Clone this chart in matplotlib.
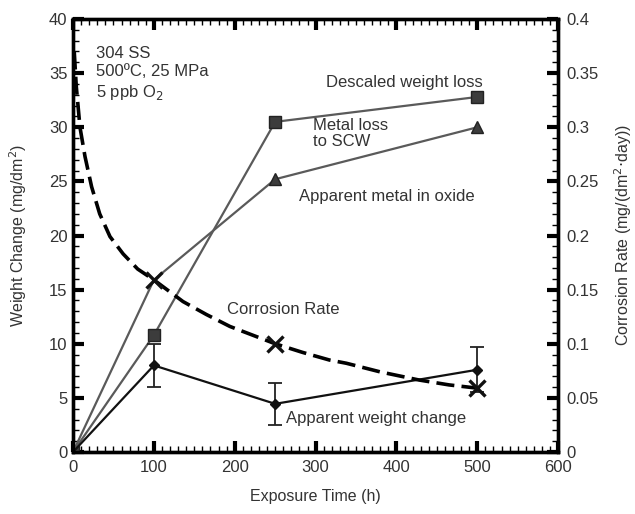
import numpy as np
import matplotlib.pyplot as plt
from matplotlib.ticker import MultipleLocator

plt.rcParams['font.family'] = ['Liberation Sans', 'DejaVu Sans']

# exposure times (h)
hours = [0, 100, 250, 500]

# weight change series (mg/dm2)
descaled_loss = [0, 10.8, 30.5, 32.8]
metal_in_oxide = [0, 15.9, 25.2, 30.0]
apparent_change = [0, 8.0, 4.45, 7.6]
apparent_err = [0, 2.0, 1.95, 2.1]

# corrosion rate (mg/(dm2 day)): measured points and the fitted curve through them
rate_hours = [100, 250, 500]
rate_points = [0.159, 0.100, 0.059]
curve_hours = [1.5, 4, 8.6, 14.8, 23, 33, 45.7, 62, 80, 100, 136, 165, 194, 222, 250,
               284, 317, 338, 380, 428, 465, 500]
curve_rate = [0.370, 0.338, 0.300, 0.273, 0.245, 0.220, 0.199, 0.183, 0.169, 0.159,
              0.139, 0.127, 0.116, 0.108, 0.100, 0.092, 0.085, 0.082, 0.074, 0.0665,
              0.062, 0.059]

fig = plt.figure(figsize=(6.35, 5.14), dpi=100)
ax = fig.add_axes([0.115, 0.1206, 0.764, 0.8424])
ax2 = ax.twinx()

gray = '#5a5a5a'
dark = '#3c3c3c'

ax.plot(hours, descaled_loss, color=gray, lw=1.6, marker='s', ms=8,
        mfc=dark, mec='#222222', zorder=3)
ax.plot(hours, metal_in_oxide, color=gray, lw=1.6, marker='^', ms=8,
        mfc=dark, mec='#222222', markevery=[2, 3], zorder=3)
ax.errorbar(hours[1:], apparent_change[1:], yerr=apparent_err[1:], fmt='none',
            ecolor='#222222', elinewidth=1.3, capsize=5, capthick=1.3, zorder=3)
ax.plot(hours, apparent_change, color='#111111', lw=1.6, marker='D', ms=5.5,
        mfc='#111111', mec='#111111', markevery=[1, 2, 3], zorder=4)

ax2.plot(curve_hours, curve_rate, color='black', lw=2.6, ls=(0, (5, 2)), zorder=3)
ax2.plot(rate_hours, rate_points, ls='none', marker='x', ms=12, mew=2.4,
         color='#111111', zorder=4)

ax.set_xlim(0, 600)
ax.set_ylim(0, 40)
ax2.set_ylim(0, 0.4)

ax.xaxis.set_major_locator(MultipleLocator(100))
ax.xaxis.set_minor_locator(MultipleLocator(10))
ax.yaxis.set_major_locator(MultipleLocator(5))
ax.yaxis.set_minor_locator(MultipleLocator(1))
ax2.yaxis.set_major_locator(MultipleLocator(0.05))
ax2.yaxis.set_minor_locator(MultipleLocator(0.01))
ax2.set_yticks(np.arange(0, 0.41, 0.05))
ax2.set_yticklabels(['0', '0.05', '0.1', '0.15', '0.2', '0.25', '0.3', '0.35', '0.4'])

ax.tick_params(axis='x', which='both', direction='in', top=True, bottom=True, pad=6)
ax.tick_params(axis='y', which='both', direction='in', left=True, right=False, pad=4)
for a in (ax, ax2):
    a.tick_params(which='major', length=8, width=3, labelsize=12, labelcolor='#333333')
    a.tick_params(which='minor', length=4, width=1)
ax2.tick_params(axis='y', which='both', direction='in', pad=6)

for a in (ax, ax2):
    for s in a.spines.values():
        s.set_linewidth(2.4)

ax.set_xlabel('Exposure Time (h)', fontsize=11.5, color='#333333', labelpad=10)
ax.set_ylabel('Weight Change (mg/dm$^2$)', fontsize=11.5, color='#333333', labelpad=14)
ax2.set_ylabel('Corrosion Rate (mg/(dm$^2$$\\cdot$day))', fontsize=11.5,
               color='#333333', labelpad=10)

txt = dict(fontsize=12, color='#333333')
ax.text(28, 37.5, '304 SS\n500ºC, 25 MPa\n5 ppb O$_2$', va='top', ha='left',
        linespacing=1.25, **txt)
ax.text(313, 34.1, 'Descaled weight loss', ha='left', va='center', **txt)
ax.text(297, 29.4, 'Metal loss\nto SCW', ha='left', va='center', linespacing=1.05, **txt)
ax.text(279, 23.6, 'Apparent metal in oxide', ha='left', va='center', **txt)
ax.text(191, 13.2, 'Corrosion Rate', ha='left', va='center', **txt)
ax.text(263, 3.1, 'Apparent weight change', ha='left', va='center', **txt)

fig.savefig('out.png', dpi=100)
